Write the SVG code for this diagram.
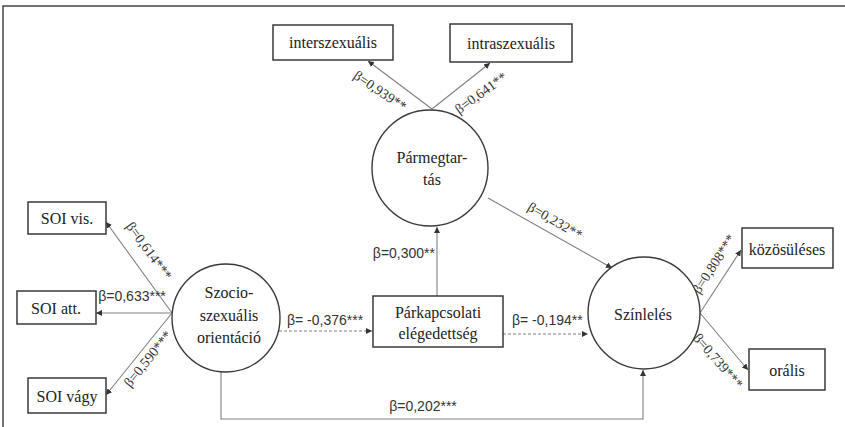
<svg xmlns="http://www.w3.org/2000/svg" width="845" height="427" viewBox="0 0 845 427">
<style>
.box{fill:#fff;stroke:#3a3a3a;stroke-width:1.5}
.circ{fill:#fff;stroke:#3a3a3a;stroke-width:1.4}
.nt{font-family:"Liberation Serif","Times New Roman",serif;font-size:16px;fill:#222;text-anchor:middle;dominant-baseline:central}
.ln{fill:none;stroke:#808080;stroke-width:1.1}
.dash{fill:none;stroke:#808080;stroke-width:1.1;stroke-dasharray:3,2}
.ls{font-family:"Liberation Sans",Arial,sans-serif;font-size:14px;fill:#333;dominant-baseline:central}
.lr{font-family:"Liberation Serif","Times New Roman",serif;font-size:14px;fill:#333;text-anchor:middle;dominant-baseline:central}
</style>
<defs>
<marker id="ah" viewBox="0 0 10 10" refX="10" refY="5" markerWidth="6" markerHeight="6" markerUnits="userSpaceOnUse" orient="auto">
<path d="M0,0 L10,5 L0,10 z" fill="#333"/>
</marker>
</defs>
<rect width="845" height="427" fill="#fff"/>
<path d="M3,427 V6 H845" fill="none" stroke="#444" stroke-width="1.5"/>
<g id="connectors">
<line class="ln" x1="432" y1="109" x2="368" y2="61" marker-end="url(#ah)"/>
<line class="ln" x1="432" y1="109" x2="490" y2="63" marker-end="url(#ah)"/>
<line class="ln" x1="172" y1="313" x2="106" y2="222" marker-end="url(#ah)"/>
<line class="ln" x1="172" y1="313" x2="96" y2="313" marker-end="url(#ah)"/>
<line class="ln" x1="172" y1="313" x2="106" y2="395" marker-end="url(#ah)"/>
<line class="ln" x1="437" y1="296" x2="437" y2="227" marker-end="url(#ah)"/>
<line class="dash" x1="279" y1="331" x2="372" y2="331" marker-end="url(#ah)"/>
<line class="dash" x1="503" y1="334" x2="588" y2="334" marker-end="url(#ah)"/>
<line class="ln" x1="488" y1="198" x2="612" y2="268" marker-end="url(#ah)"/>
<line class="ln" x1="700" y1="313" x2="741" y2="250" marker-end="url(#ah)"/>
<line class="ln" x1="700" y1="313" x2="748" y2="370" marker-end="url(#ah)"/>
<path class="ln" d="M221,372 V419 H643 V370" marker-end="url(#ah)"/>
<text class="lr" transform="translate(380,91) rotate(34)">β=0,939**</text>
<text class="lr" transform="translate(481,93) rotate(-36)">β=0,641**</text>
<text class="lr" transform="translate(149,251) rotate(54)">β=0,614***</text>
<text class="ls" x="132" y="296" text-anchor="middle">β=0,633***</text>
<text class="lr" transform="translate(148,359) rotate(-51)">β=0,590***</text>
<text class="ls" x="435" y="253" text-anchor="end">β=0,300**</text>
<text class="ls" x="287" y="320">β= -0,376***</text>
<text class="ls" x="512" y="320">β= -0,194**</text>
<text class="lr" transform="translate(555,221) rotate(30)">β=0,232**</text>
<text class="lr" transform="translate(714,264) rotate(-57)">β=0,808***</text>
<text class="lr" transform="translate(718,361) rotate(49)">β=0,739***</text>
<text class="ls" x="423" y="406" text-anchor="middle">β=0,202***</text>
</g>
<g id="interszexualis"><rect class="box" x="273" y="25" width="120" height="35"/><text class="nt" x="333" y="42">interszexuális</text></g>
<g id="intraszexualis"><rect class="box" x="450" y="24" width="122" height="38"/><text class="nt" x="511" y="43">intraszexuális</text></g>
<g id="parmegtartas"><circle class="circ" cx="430" cy="168" r="58"/><text class="nt" x="432" y="157">Pármegtar-</text><text class="nt" x="432" y="179">tás</text></g>
<g id="soi-vis"><rect class="box" x="28" y="202" width="78" height="32"/><text class="nt" x="67" y="218">SOI vis.</text></g>
<g id="soi-att"><rect class="box" x="17" y="291" width="79" height="33"/><text class="nt" x="56" y="308">SOI att.</text></g>
<g id="soi-vagy"><rect class="box" x="28" y="378" width="78" height="35"/><text class="nt" x="67" y="396">SOI vágy</text></g>
<g id="szocio"><circle class="circ" cx="226" cy="318" r="54"/><text class="nt" x="229" y="292">Szocio-</text><text class="nt" x="229" y="315">szexuális</text><text class="nt" x="229" y="337">orientáció</text></g>
<g id="parkapcsolati"><rect class="box" x="373" y="296" width="130" height="51"/><text class="nt" x="438" y="312">Párkapcsolati</text><text class="nt" x="438" y="333">elégedettség</text></g>
<g id="szinleles"><circle class="circ" cx="644" cy="313" r="56"/><text class="nt" x="643" y="314">Színlelés</text></g>
<g id="kozosuleses"><rect class="box" x="742" y="228" width="91" height="40"/><text class="nt" x="787" y="249">közösüléses</text></g>
<g id="oralis"><rect class="box" x="749" y="349" width="76" height="41"/><text class="nt" x="787" y="370">orális</text></g>
</svg>
